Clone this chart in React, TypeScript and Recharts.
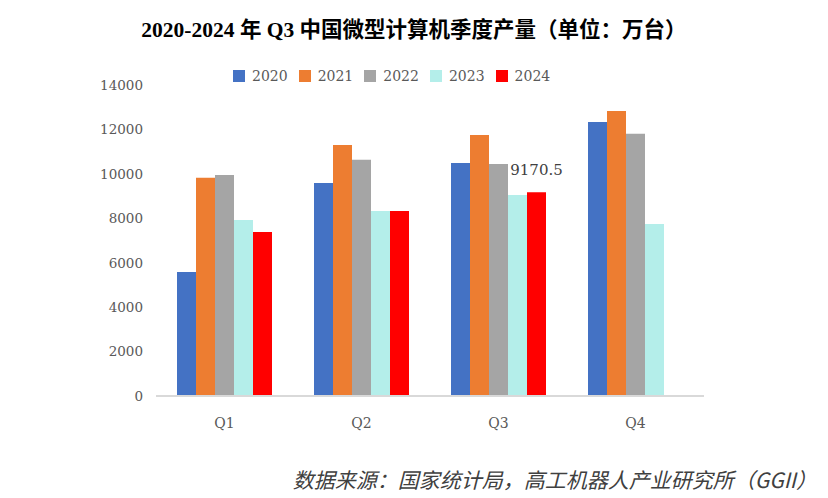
import React from 'react';
import { BarChart, Bar, XAxis, YAxis, LabelList } from 'recharts';

// 季度
const quarters = ['Q1', 'Q2', 'Q3', 'Q4'];
// 各年份产量（万台），Q4 2024 暂无数据
const y2020 = [5580, 9590, 10490, 12340];
const y2021 = [9820, 11300, 11750, 12830];
const y2022 = [9950, 10630, 10440, 11800];
const y2023 = [7920, 8330, 9050, 7740];
const y2024 = [7380, 8330, 9170.5, null];
const yTicks = [0, 2000, 4000, 6000, 8000, 10000, 12000, 14000];

const series = [
  { key: '2020', values: y2020, color: '#4472C4' },
  { key: '2021', values: y2021, color: '#ED7D31' },
  { key: '2022', values: y2022, color: '#A5A5A5' },
  { key: '2023', values: y2023, color: '#B4EEEA' },
  { key: '2024', values: y2024, color: '#FF0000' },
];

const data = quarters.map((q, i) => {
  const row: any = { name: q };
  series.forEach((s) => {
    row[s.key] = s.values[i];
  });
  return row;
});

const numFont = "'DejaVu Serif', serif";
const cjkFont = "'Liberation Serif', 'Noto Sans CJK SC', sans-serif";

// 只给 Q3 2024 标数值
const Q3Label = (props: any) => {
  const { x, y, width, value, index } = props;
  if (index !== 2 || value == null) return null;
  return (
    <text
      x={x + width / 2}
      y={y - 21}
      textAnchor="middle"
      dominantBaseline="middle"
      fill="#404040"
      fontSize={15}
      fontFamily={numFont}
    >
      {value}
    </text>
  );
};

export default function App() {
  return (
    <div style={{ position: 'absolute', left: 0, top: 0, width: 828, height: 498, background: '#fff' }}>
      <div
        style={{
          position: 'absolute',
          top: 12,
          left: 0,
          width: 828,
          textAlign: 'center',
          fontFamily: cjkFont,
          fontWeight: 'bold',
          fontSize: 21.5,
          color: '#000',
        }}
      >
        2020-2024 年 Q3 中国微型计算机季度产量（单位：万台）
      </div>

      {/* 图例 */}
      <div
        style={{
          position: 'absolute',
          top: 68,
          left: 233,
          display: 'flex',
          alignItems: 'center',
          fontFamily: numFont,
          fontSize: 14,
          color: '#595959',
        }}
      >
        {series.map((s) => (
          <div key={s.key} style={{ display: 'flex', alignItems: 'center', marginRight: 11 }}>
            <span style={{ width: 12, height: 12, background: s.color, display: 'inline-block', marginRight: 7 }} />
            <span>{s.key}</span>
          </div>
        ))}
      </div>

      <BarChart
        width={828}
        height={498}
        data={data}
        margin={{ top: 85, right: 124, left: 0, bottom: 72 }}
        barSize={19}
        barGap={0}
      >
        <XAxis
          dataKey="name"
          height={30}
          tickLine={false}
          axisLine={{ stroke: '#D9D9D9', strokeWidth: 2 }}
          tickMargin={16}
          tick={{ fill: '#595959', fontSize: 14, fontFamily: numFont }}
        />
        <YAxis
          width={156}
          domain={[0, 14000]}
          ticks={yTicks}
          tickLine={false}
          axisLine={false}
          tickSize={0}
          tickMargin={13}
          tick={{ fill: '#595959', fontSize: 13.5, fontFamily: numFont }}
        />
        {series.map((s) => (
          <Bar key={s.key} dataKey={s.key} fill={s.color} isAnimationActive={false}>
            {s.key === '2024' && <LabelList dataKey={s.key} content={<Q3Label />} />}
          </Bar>
        ))}
      </BarChart>

      <div
        style={{
          position: 'absolute',
          top: 464,
          right: 11,
          fontFamily: "'Noto Sans CJK SC', sans-serif",
          fontStyle: 'italic',
          fontSize: 21,
          color: '#404040',
        }}
      >
        数据来源：国家统计局，高工机器人产业研究所（GGII）
      </div>
    </div>
  );
}
